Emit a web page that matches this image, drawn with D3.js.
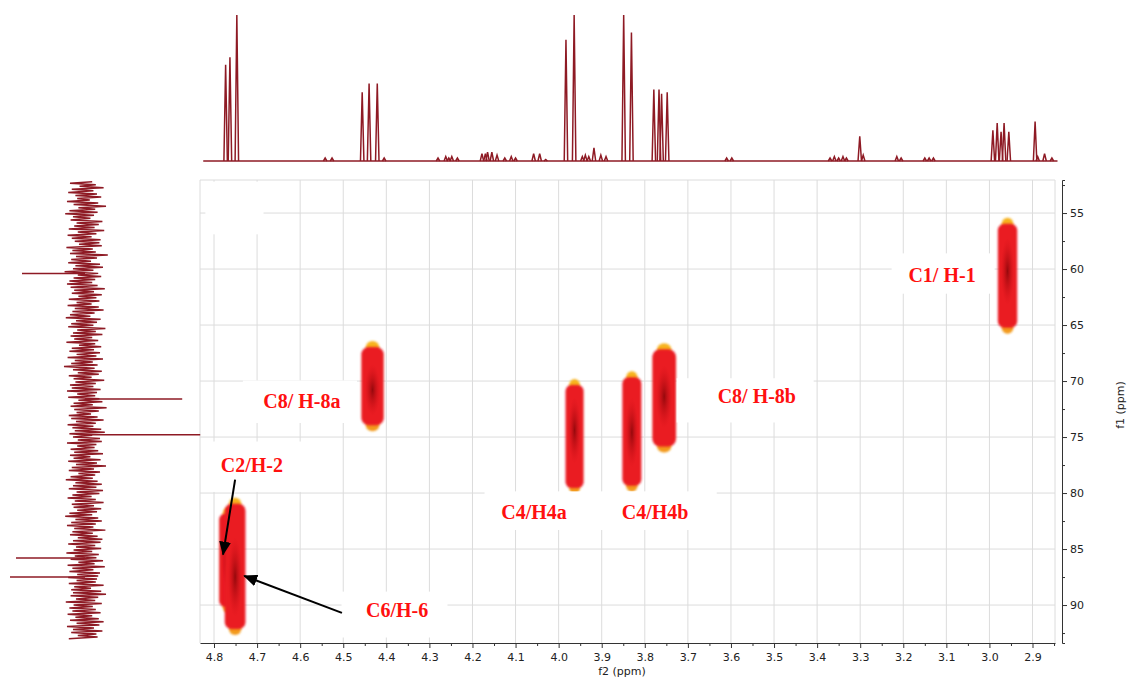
<!DOCTYPE html>
<html lang="en">
<head>
  <meta charset="UTF-8">
  <title>HSQC C-H spectrum</title>
  <script type="text/javascript" src="https://cdn.jsdelivr.net/npm/d3@7/dist/d3.min.js"></script>
  <style type="text/css">
  body {
    margin: 0;
    padding: 0;
    background: #fff;
  }
  svg {
    display: block;
  }
  .grid line {
    stroke: #dcdcdc;
    stroke-width: 1px;
  }
  .axis path, .axis line {
    stroke: #333;
  }
  .axis text {
    fill: #222;
    font-family: "DejaVu Sans", sans-serif;
    font-size: 11px;
  }
  .axisLabel {
    fill: #222;
    font-family: "DejaVu Sans", sans-serif;
    font-size: 11px;
  }
  .peakLabel {
    fill: #ff1010;
    font-family: "Liberation Serif", "Times New Roman", serif;
    font-weight: bold;
    font-size: 20px;
  }
  .spec {
    fill: none;
    stroke: #8e1a24;
    stroke-width: 1.5px;
  }
  </style>
</head>
<body>
  <div id="chart"></div>
</body>
<script type="text/javascript">
  var width = 1133, height = 679;

  // axis ticks
  var f2Ticks = [4.8, 4.7, 4.6, 4.5, 4.4, 4.3, 4.2, 4.1, 4.0, 3.9, 3.8, 3.7, 3.6, 3.5, 3.4, 3.3, 3.2, 3.1, 3.0, 2.9];
  var f1Ticks = [55, 60, 65, 70, 75, 80, 85, 90];

  // 2D cross peaks (ppm)
  var peakNames   = ['C1/H-1', 'C8/H-8a', 'C4/H4a', 'C4/H4b', 'C8/H-8b', 'C2/H-2', 'C6/H-6'];
  var peakF2      = [2.958, 4.432, 3.963, 3.830, 3.755, 4.768, 4.751];
  var peakF2Width = [0.045, 0.052, 0.042, 0.044, 0.055, 0.040, 0.048];
  var peakF1Top   = [55.6, 66.6, 70.0, 69.3, 66.8, 81.5, 80.6];
  var peakF1Bot   = [65.6, 74.3, 79.9, 79.7, 76.2, 90.5, 92.5];
  var peakF1Core  = [60.2, 70.8, 74.4, 74.6, 71.4, 86.0, 87.5];

  // 1H projection (top): ppm and relative height
  var hPpm    = [4.773, 4.763, 4.747, 4.542, 4.526, 4.456, 4.440, 4.421, 4.405, 4.280, 4.262, 4.255, 4.248, 4.235,
                 4.178, 4.170, 4.165, 4.155, 4.143, 4.125, 4.110, 4.100, 4.058, 4.044, 4.030,
                 3.983, 3.964, 3.945, 3.938, 3.930, 3.918, 3.902, 3.890, 3.849, 3.831,
                 3.779, 3.767, 3.761, 3.748, 3.610, 3.598, 3.370, 3.360, 3.350, 3.340, 3.332,
                 3.301, 3.293, 3.215, 3.205, 3.150, 3.140, 3.130,
                 2.992, 2.982, 2.973, 2.966, 2.955, 2.894, 2.888, 2.872, 2.855];
  var hHeight = [0.66, 0.71, 1.00, 0.02, 0.02, 0.47, 0.53, 0.53, 0.02, 0.02, 0.03, 0.02, 0.03, 0.02,
                 0.05, 0.05, 0.06, 0.06, 0.04, 0.02, 0.03, 0.02, 0.05, 0.05, 0.01,
                 0.83, 1.00, 0.03, 0.04, 0.03, 0.09, 0.04, 0.03, 1.00, 0.88,
                 0.49, 0.49, 0.46, 0.47, 0.02, 0.02, 0.02, 0.03, 0.02, 0.03, 0.02,
                 0.17, 0.04, 0.03, 0.02, 0.02, 0.02, 0.02,
                 0.21, 0.26, 0.20, 0.26, 0.20, 0.27, 0.03, 0.05, 0.02];

  // 13C projection (left): peaks ppm and signed intensity (noise units)
  var cPpm = [60.4, 71.6, 74.8, 85.8, 87.5];
  var cInt = [-105, 162, 192, -115, -125];
  // 13C baseline noise, sampled evenly from 52.2 to 93.0 ppm
  var cNoise = [12,-25,18,-9,31,-22,14,-28,20,-16,
                27,-13,8,-30,22,-19,35,-11,17,-26,
                21,-33,15,-20,9,-24,29,-14,23,-18,
                16,-27,32,-12,19,-29,11,-22,26,-17,
                24,-10,28,-31,13,-21,18,-25,38,-15,
                20,-23,10,-28,25,-16,30,-20,14,-34,
                22,-12,27,-19,17,-26,12,-30,21,-24,
                33,-18,15,-22,28,-11,19,-27,24,-14,
                11,-29,23,-17,31,-21,16,-25,9,-32,
                26,-15,20,-23,14,-28,34,-13,18,-20,
                29,-24,12,-18,22,-31,17,-10,27,-22,
                15,-26,25,-14,19,-29,30,-17,13,-23,
                21,-35,16,-20,28,-12,23,-27,11,-19,
                32,-16,18,-25,14,-22,26,-30,20,-13,
                17,-28,24,-11,29,-19,13,-24,36,-18,
                23,-14,10,-27,21,-23,31,-15,18,-29,
                14,-21,27,-17,33,-26,12,-20,25,-12,
                28,-30,19,-13,16,-24,22,-18,30,-25,
                9,-19,26,-28,20,-15,35,-22,15,-27,
                25,-11,17,-24,13,-32,21,-16,28,-20,
                19,-27,30,-14,24,-21,11,-29,18,-17,
                31,-22,15,-19,27,-13,20,-26,12,-33,
                22,-16,28,-23,18,-30,14,-18,34,-21,
                13,-25,21,-12,29,-20,26,-28,17,-15,
                27,-19,12,-31,23,-17,19,-24,30,-11,
                16,-29,33,-21,14,-26,25,-13,22,-28,
                20,-14,18,-27,31,-18,10,-23,27,-20,
                35,-24,22,-15,17,-32,28,-19,13,-26,
                18,-21,26,-29,12,-16,23,-25,31,-14,
                24,-30,15,-20,29,-23,19,-12,21,-27];

  // annotation labels (ppm anchor: centre x, baseline y)
  var labelText = ['C1/ H-1', 'C8/ H-8a', 'C8/ H-8b', 'C4/H4a', 'C4/H4b', 'C2/H-2', 'C6/H-6'];
  var labelF2   = [3.110, 4.596, 3.540, 4.057, 3.776, 4.712, 4.375];
  var labelF1   = [61.2, 72.4, 72.0, 82.3, 82.3, 78.1, 91.1];
  // white label backgrounds [f2 left, f2 right, f1 top, f1 bottom]
  var boxes = [
    [3.227, 2.988, 58.6, 62.2],
    [4.733, 4.468, 69.95, 73.75],
    [3.726, 3.408, 69.75, 73.7],
    [4.172, 3.633, 79.85, 83.3],
    [4.828, 4.508, 75.4, 79.9],
    [4.504, 4.258, 88.8, 92.9],
    [4.820, 4.685, 52.2, 56.9]
  ];
  // arrows [f2 from, f1 from, f2 to, f1 to]
  var arrows = [
    [4.751, 78.8, 4.779, 85.5],
    [4.503, 90.7, 4.730, 87.4]
  ];

  // scales
  var fx = d3.scaleLinear().domain([4.8325, 2.8478]).range([200, 1055]);
  var fy = d3.scaleLinear().domain([52.05, 93.39]).range([180, 643]);
  var hy = d3.scaleLinear().domain([0, 1]).range([161, 15]);
  var cx = d3.scaleLinear().domain([-100, 100]).range([25, 145]);

  var svg = d3.select('#chart')
    .append('svg')
    .attr('width', width)
    .attr('height', height);

  var defs = svg.append('defs');
  defs.append('filter').attr('id', 'soft')
    .attr('x', '-50%').attr('y', '-20%').attr('width', '200%').attr('height', '140%')
    .append('feGaussianBlur').attr('stdDeviation', 1.1);
  var core = defs.append('radialGradient').attr('id', 'core');
  core.append('stop').attr('offset', '0%').attr('stop-color', '#7a0205').attr('stop-opacity', 0.75);
  core.append('stop').attr('offset', '55%').attr('stop-color', '#b00a10').attr('stop-opacity', 0.4);
  core.append('stop').attr('offset', '100%').attr('stop-color', '#d01018').attr('stop-opacity', 0);
  defs.append('marker').attr('id', 'arrow')
    .attr('viewBox', '0 0 14 12')
    .attr('refX', 13).attr('refY', 6)
    .attr('markerWidth', 14).attr('markerHeight', 12)
    .attr('markerUnits', 'userSpaceOnUse')
    .attr('orient', 'auto')
    .append('path').attr('d', 'M0,0 L14,6 L0,12 Z').attr('fill', '#000');

  // grid
  var grid = svg.append('g').attr('class', 'grid');
  grid.selectAll('.vg').data(f2Ticks).enter().append('line')
    .attr('x1', function(d){ return fx(d); }).attr('x2', function(d){ return fx(d); })
    .attr('y1', fy.range()[0]).attr('y2', fy.range()[1]);
  grid.selectAll('.hg').data(f1Ticks).enter().append('line')
    .attr('x1', fx.range()[0]).attr('x2', fx.range()[1])
    .attr('y1', function(d){ return fy(d); }).attr('y2', function(d){ return fy(d); });
  grid.append('line').attr('x1', 200).attr('x2', 1055).attr('y1', 180).attr('y2', 180);
  grid.append('line').attr('x1', 200).attr('x2', 200).attr('y1', 180).attr('y2', 643);
  grid.append('line').attr('x1', 1055).attr('x2', 1055).attr('y1', 180).attr('y2', 643);

  // cross peaks
  var peaks = peakNames.map(function(n, i){
    return {name: n, f2: peakF2[i], w: peakF2Width[i], top: peakF1Top[i], bot: peakF1Bot[i], core: peakF1Core[i]};
  });
  var pg = svg.append('g').selectAll('g').data(peaks).enter().append('g');
  pg.append('ellipse')
    .attr('cx', function(d){ return fx(d.f2); })
    .attr('cy', function(d){ return fy(d.top) + 4; })
    .attr('rx', function(d){ return (fx(d.f2 - d.w) - fx(d.f2)) * 0.3; })
    .attr('ry', 6)
    .attr('fill', '#f7b21e')
    .attr('filter', 'url(#soft)');
  pg.append('ellipse')
    .attr('cx', function(d){ return fx(d.f2); })
    .attr('cy', function(d){ return fy(d.bot) - 4; })
    .attr('rx', function(d){ return (fx(d.f2 - d.w) - fx(d.f2)) * 0.3; })
    .attr('ry', 6)
    .attr('fill', '#f39a1a')
    .attr('filter', 'url(#soft)');
  pg.append('rect')
    .attr('x', function(d){ return fx(d.f2 + d.w / 2); })
    .attr('width', function(d){ return fx(d.f2 - d.w / 2) - fx(d.f2 + d.w / 2); })
    .attr('y', function(d){ return fy(d.top) + 4; })
    .attr('height', function(d){ return fy(d.bot) - fy(d.top) - 8; })
    .attr('rx', function(d){ return (fx(d.f2 - d.w / 2) - fx(d.f2 + d.w / 2)) / 3; })
    .attr('fill', '#ea1a22')
    .attr('filter', 'url(#soft)');
  pg.append('ellipse')
    .attr('cx', function(d){ return fx(d.f2); })
    .attr('cy', function(d){ return fy(d.core); })
    .attr('rx', function(d){ return (fx(d.f2 - d.w) - fx(d.f2)) * 0.35; })
    .attr('ry', function(d){ return (fy(d.bot) - fy(d.top)) * 0.3; })
    .attr('fill', 'url(#core)');

  // label backgrounds
  svg.append('g').selectAll('rect').data(boxes).enter().append('rect')
    .attr('x', function(d){ return fx(d[0]); })
    .attr('y', function(d){ return fy(d[2]); })
    .attr('width', function(d){ return fx(d[1]) - fx(d[0]); })
    .attr('height', function(d){ return fy(d[3]) - fy(d[2]); })
    .attr('fill', '#fff');

  // labels
  svg.append('g').selectAll('text').data(labelText).enter().append('text')
    .attr('class', 'peakLabel')
    .attr('text-anchor', 'middle')
    .attr('x', function(d, i){ return fx(labelF2[i]); })
    .attr('y', function(d, i){ return fy(labelF1[i]); })
    .text(function(d){ return d; });

  // arrows
  svg.append('g').selectAll('line').data(arrows).enter().append('line')
    .attr('x1', function(d){ return fx(d[0]); })
    .attr('y1', function(d){ return fy(d[1]); })
    .attr('x2', function(d){ return fx(d[2]); })
    .attr('y2', function(d){ return fy(d[3]); })
    .attr('stroke', '#000')
    .attr('stroke-width', 2)
    .attr('marker-end', 'url(#arrow)');

  // axes
  var xAxis = d3.axisBottom(fx).tickValues(f2Ticks).tickFormat(d3.format('.1f')).tickSize(5).tickSizeOuter(0);
  var xMinor = d3.axisBottom(fx).tickValues(f2Ticks.map(function(d){ return d - 0.05; })).tickFormat('').tickSize(3).tickSizeOuter(0);
  svg.append('g').attr('class', 'axis').attr('transform', 'translate(0,643)').call(xAxis)
    .selectAll('text').attr('dy', '0.95em');
  svg.append('g').attr('class', 'axis').attr('transform', 'translate(0,643)').call(xMinor)
    .select('.domain').remove();

  var yAxis = d3.axisRight(fy).tickValues(f1Ticks).tickSize(5).tickSizeOuter(3);
  var yMinor = d3.axisRight(fy).tickValues(f1Ticks.map(function(d){ return d + 2.5; }).concat([52.5])).tickFormat('').tickSize(3).tickSizeOuter(0);
  svg.append('g').attr('class', 'axis').attr('transform', 'translate(1062,0)').call(yAxis);
  svg.append('g').attr('class', 'axis').attr('transform', 'translate(1062,0)').call(yMinor)
    .select('.domain').remove();

  svg.append('text').attr('class', 'axisLabel')
    .attr('x', 622).attr('y', 675).attr('text-anchor', 'middle')
    .text('f2 (ppm)');
  svg.append('text').attr('class', 'axisLabel')
    .attr('transform', 'translate(1124,405) rotate(-90)')
    .attr('text-anchor', 'middle')
    .text('f1 (ppm)');

  // 1H projection
  var hLine = d3.line()
    .x(function(d){ return fx(d[0]); })
    .y(function(d){ return hy(d[1]); });
  svg.append('path').attr('class', 'spec')
    .attr('stroke-width', 1.2)
    .attr('d', hLine([[4.825, 0], [2.842, 0]]));
  var hw = 0.004;
  svg.append('g').selectAll('path').data(hPpm).enter().append('path')
    .attr('class', 'spec')
    .attr('d', function(d, i){ return hLine([[d + hw, 0], [d, hHeight[i]], [d - hw, 0]]); });

  // 13C projection
  var cLine = d3.line()
    .x(function(d){ return cx(d[1]); })
    .y(function(d){ return fy(d[0]); });
  var noiseStep = (93.0 - 52.2) / (cNoise.length - 1);
  var noisePts = cNoise.map(function(v, i){ return [52.2 + i * noiseStep, v]; });
  svg.append('path').attr('class', 'spec')
    .attr('stroke', '#80101a')
    .attr('stroke-width', 1.4)
    .attr('d', cLine(noisePts));
  svg.append('g').selectAll('path').data(cPpm).enter().append('path')
    .attr('class', 'spec')
    .attr('d', function(d, i){ return cLine([[d, 0], [d, cInt[i]]]); });
</script>
</html>
